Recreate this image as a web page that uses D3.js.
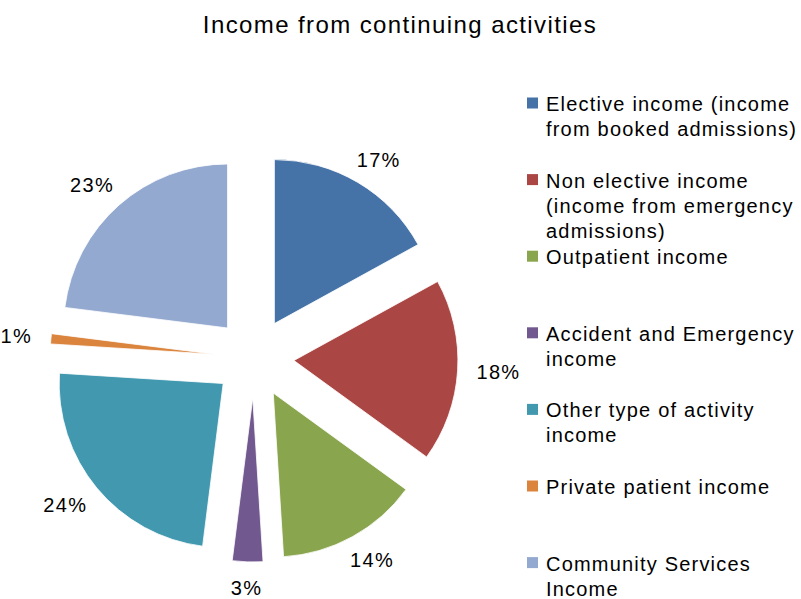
<!DOCTYPE html>
<html>
<head>
<meta charset="utf-8">
<script src="https://cdn.jsdelivr.net/npm/d3@7"></script>
<style>
  html, body { margin: 0; padding: 0; background: #fff; }
  svg { display: block; font-family: "Liberation Sans", Arial, sans-serif; }
</style>
</head>
<body>
<svg id="chart" width="801" height="599"></svg>
<script>
// Share of income from continuing activities, by type (percent)
const categories = [
  "Elective income (income from booked admissions)",
  "Non elective income (income from emergency admissions)",
  "Outpatient income",
  "Accident and Emergency income",
  "Other type of activity income",
  "Private patient income",
  "Community Services Income"
];
const shares = [17, 18, 14, 3, 24, 1, 23];
const colours = ["#4572A7", "#AA4643", "#89A54E", "#71588F", "#4198AF", "#DB843D", "#93A9CF"];
const title = "Income from continuing activities";

const svg = d3.select("#chart");

// Title
svg.append("text")
  .attr("x", 400).attr("y", 33)
  .attr("text-anchor", "middle")
  .style("font-size", "24px")
  .style("letter-spacing", "1.4px")
  .attr("fill", "#000")
  .text(title);

// Pie geometry: every slice is pulled out along its mid-angle
const cx = 254, cy = 358, R = 164, explode = 40;
const data = categories.map((c, i) => ({ name: c, value: shares[i], colour: colours[i] }));
const pie = d3.pie().sort(null).value(d => d.value).startAngle(0).endAngle(2 * Math.PI);
const arc = d3.arc().innerRadius(0).outerRadius(R);
const arcs = pie(data);

const g = svg.append("g").attr("transform", `translate(${cx},${cy})`);

const slices = g.selectAll("g.slice").data(arcs).join("g")
  .attr("class", "slice")
  .attr("transform", d => {
    const a = (d.startAngle + d.endAngle) / 2;
    return `translate(${explode * Math.sin(a)},${-explode * Math.cos(a)})`;
  });

slices.append("path")
  .attr("d", arc)
  .attr("fill", d => d.data.colour)
  .attr("stroke", "#fff")
  .attr("stroke-width", 0.8);

// Percentage labels just outside each slice's outer edge
const labelFont = 20, gap = 19, capH = 14;
slices.append("text")
  .style("font-size", labelFont + "px")
  .style("letter-spacing", "1.3px")
  .attr("fill", "#000")
  .attr("text-anchor", "middle")
  .text(d => d.data.value + "%")
  .each(function(d) {
    const a = (d.startAngle + d.endAngle) / 2;
    const ux = Math.sin(a), uy = -Math.cos(a);
    const w = this.getComputedTextLength();
    const x = ux * (R + gap) + ux * w / 2;
    const y = uy * (R + gap) + uy * capH / 2;
    d3.select(this).attr("x", x).attr("y", y + capH / 2);
  });

// Legend
const legendX = 527, legendTop = 111, rowPitch = 76.6, lineH = 25, maxW = 256;
const legend = svg.append("g");
data.forEach((d, i) => {
  const yBase = legendTop + i * rowPitch;
  legend.append("rect")
    .attr("x", legendX).attr("y", yBase - 13.5)
    .attr("width", 11).attr("height", 11)
    .attr("fill", d.colour);
  const t = legend.append("text")
    .attr("x", legendX + 19).attr("y", yBase)
    .style("font-size", "20px")
    .style("letter-spacing", "1.2px")
    .attr("fill", "#000");
  // word-wrap the entry to the legend width
  const words = d.name.split(" ");
  let line = [];
  let tspan = t.append("tspan").attr("x", legendX + 19).attr("dy", 0);
  words.forEach(word => {
    line.push(word);
    tspan.text(line.join(" "));
    if (tspan.node().getComputedTextLength() > maxW && line.length > 1) {
      line.pop();
      tspan.text(line.join(" "));
      line = [word];
      tspan = t.append("tspan").attr("x", legendX + 19).attr("dy", lineH).text(word);
    }
  });
});
</script>
</body>
</html>
